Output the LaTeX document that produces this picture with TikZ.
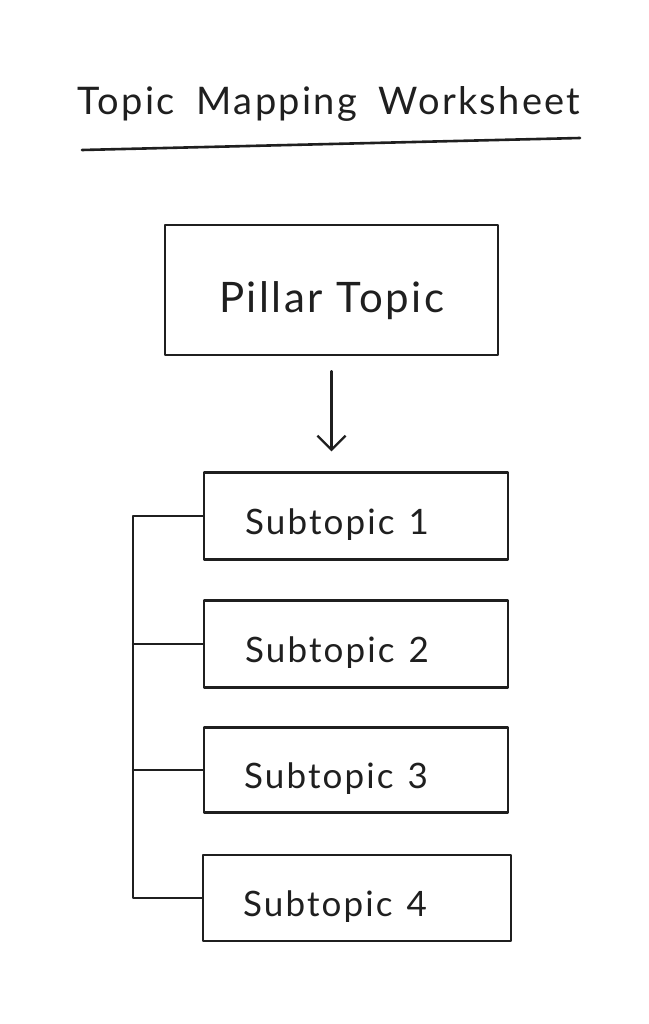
\documentclass[tikz,border=0pt]{standalone}
\usepackage{fontspec}
\setmainfont{Lato}[LetterSpace=6]
\usetikzlibrary{arrows.meta}
\begin{document}
\begin{tikzpicture}[x=1pt,y=-1pt,
  ink/.style={line width=2.3pt,color=black!88,line cap=round,line join=round},
  bx/.style={ink,draw,fill=white,inner sep=0pt,text=black!88},
  subbox/.style={bx,minimum width=304pt,minimum height=87pt,text height=37pt,text depth=0pt,font=\fontsize{35}{38}\selectfont}]
\useasboundingbox[fill=white] (0,0) rectangle (648,1024);
% title
\node[font=\fontsize{38}{42}\selectfont,text=black!88,inner sep=0pt] (title) at (329,104) {Topic\hspace{22pt}Mapping\hspace{22pt}Worksheet};
\coordinate (ul1) at (82,150);
\coordinate (ul2) at (580,138);
\draw[ink,line width=2.6pt] (ul1) -- (ul2);
% pillar
\node[bx,minimum width=333pt,minimum height=130pt,text height=44pt,text depth=0pt,font=\fontsize{42}{44}\selectfont] (pillar) at (331.5,290) {Pillar\hspace{14pt}Topic};
% subtopics
\node[subbox] (s1) at (356,516) {Subtopic\hspace{14pt}1\rule{38pt}{0pt}};
\node[subbox] (s2) at (356,644) {Subtopic\hspace{14pt}2\rule{38pt}{0pt}};
\node[subbox,minimum height=85pt] (s3) at (356,770) {Subtopic\hspace{14pt}3\rule{40pt}{0pt}};
\node[subbox,minimum width=308pt,minimum height=86pt] (s4) at (357,898) {Subtopic\hspace{14pt}4\rule{44pt}{0pt}};
% arrow
\path (pillar.south) ++(0,15) coordinate (astart);
\path (pillar.south |- s1.north) ++(0,-20) coordinate (aend);
\draw[ink,-{Straight Barb[length=14pt,width=28pt,line width=2.3pt]}] (astart) -- (aend);
% tree bus
\coordinate (bus) at (133,0);
\draw[ink] (s1.west) -- (s1.west -| bus) -- (s4.west -| bus) -- (s4.west);
\draw[ink] (s2.west) -- (s2.west -| bus);
\draw[ink] (s3.west) -- (s3.west -| bus);
\end{tikzpicture}
\end{document}
